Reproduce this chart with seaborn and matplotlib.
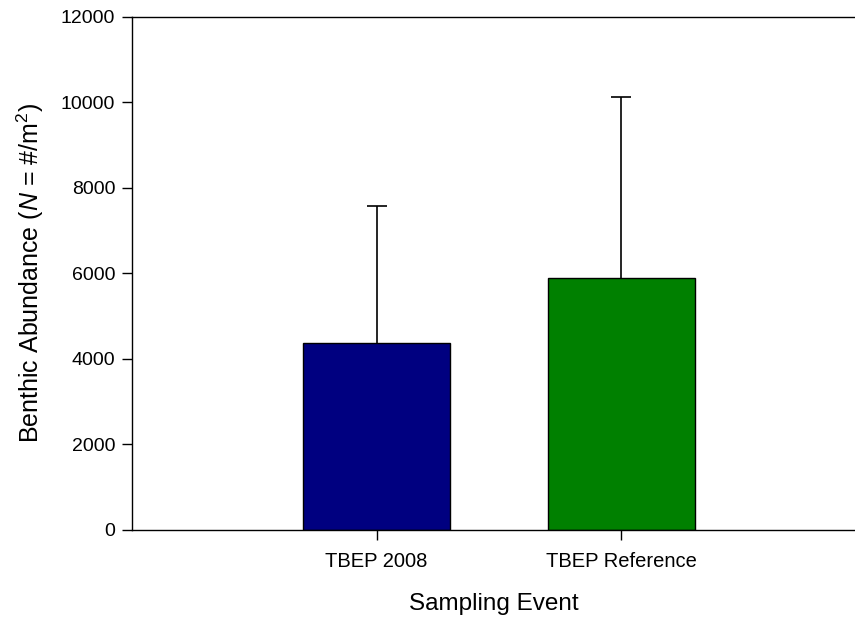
import pandas as pd
import seaborn as sns
import matplotlib.pyplot as plt

# Data
events = ["TBEP 2008", "TBEP Reference"]
abundance = [4370, 5895]
upper_err = [7585, 10120]   # top of the (upper-only) error bar
bar_colors = ["#000080", "#008000"]

df = pd.DataFrame({"Event": events, "Abundance": abundance})

sns.set_theme(style="ticks")
plt.rcParams["font.family"] = ["Liberation Sans", "DejaVu Sans"]
plt.rcParams["mathtext.fontset"] = "custom"
plt.rcParams["mathtext.rm"] = "Liberation Sans"
plt.rcParams["mathtext.it"] = "Liberation Sans:italic"
plt.rcParams["text.color"] = "black"
plt.rcParams["axes.labelcolor"] = "black"

fig = plt.figure(figsize=(8.55, 6.18), dpi=100)
ax = fig.add_axes([0.1544, 0.1424, 0.8456, 0.8301])

sns.barplot(
    data=df, x="Event", y="Abundance", hue="Event",
    palette=bar_colors, saturation=1, width=0.6, edgecolor="black",
    linewidth=1, legend=False, ax=ax,
)

# upper-only error bars
_, caps, _ = ax.errorbar(
    range(len(events)), abundance,
    yerr=[[0] * len(events), [u - a for u, a in zip(upper_err, abundance)]],
    fmt="none", ecolor="black", elinewidth=1.2, capsize=7.5, capthick=1.2,
    zorder=1,
)
caps[0].set_visible(False)  # drop the lower caps sitting on the bar tops

ax.set_ylim(0, 12000)
ax.set_xlim(-1, 1.955)
ax.set_yticks(range(0, 12001, 2000))
ax.spines["right"].set_visible(False)
for s in ["left", "top", "bottom"]:
    ax.spines[s].set_color("black")
    ax.spines[s].set_linewidth(1)
ax.tick_params(direction="out", length=7, width=1, colors="black",
               labelsize=14, pad=5)
ax.tick_params(axis="x", pad=9, labelsize=14.5)

ax.set_xlabel("Sampling Event", fontsize=17.5, labelpad=16)
ax.set_ylabel(r"Benthic Abundance ($\mathit{N}$ = #/m$^2$)", fontsize=18,
              labelpad=11)

fig.savefig("out.png", dpi=100)
